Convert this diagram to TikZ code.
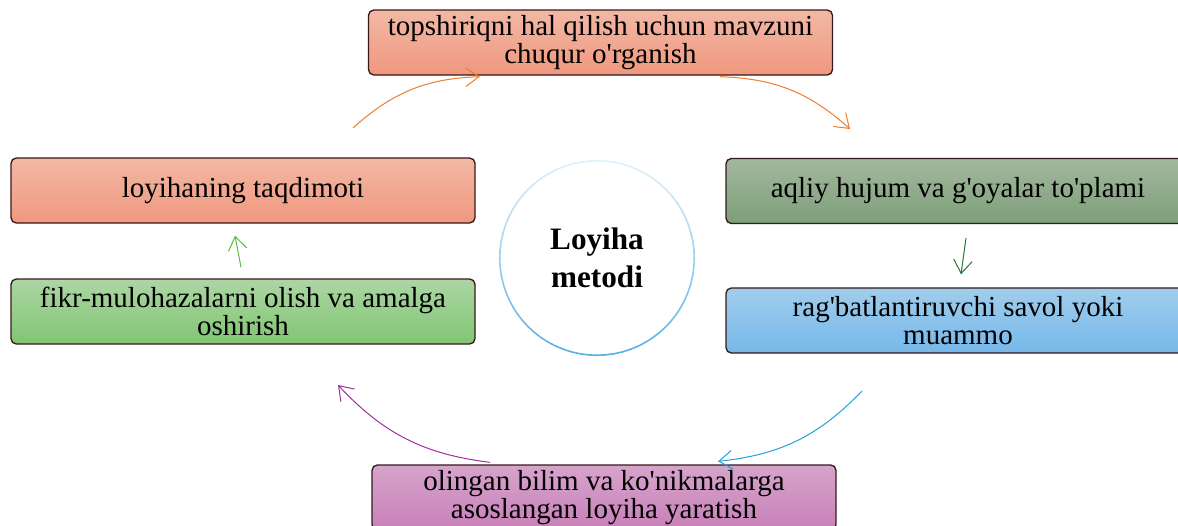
\documentclass[tikz,border=0pt]{standalone}
\usepackage{fontspec}
\setmainfont{Liberation Serif}[Ligatures=TeXOff]
\usetikzlibrary{calc,arrows.meta}
\definecolor{salmtop}{RGB}{242,184,165}
\definecolor{salmbot}{RGB}{240,152,126}
\definecolor{greytop}{RGB}{163,184,158}
\definecolor{greybot}{RGB}{126,158,122}
\definecolor{bluetop}{RGB}{160,205,236}
\definecolor{bluebot}{RGB}{118,184,234}
\definecolor{greentop}{RGB}{172,214,164}
\definecolor{greenbot}{RGB}{128,198,114}
\definecolor{pinktop}{RGB}{214,164,204}
\definecolor{pinkbot}{RGB}{200,128,184}
\definecolor{edge}{RGB}{55,25,25}
\definecolor{ring}{RGB}{88,176,228}
\definecolor{orng}{RGB}{237,125,49}
\definecolor{dgreen}{RGB}{36,120,48}
\definecolor{lgreen}{RGB}{96,186,66}
\definecolor{cyn}{RGB}{34,160,218}
\definecolor{purp}{RGB}{160,48,160}

\begin{document}
\begin{tikzpicture}[x=0.75pt,y=-0.75pt,
	box/.style={rounded corners=4pt,draw=edge,line width=1pt,inner sep=0pt,
		minimum width=348pt,minimum height=48.75pt,align=center,
		font=\fontsize{21.75}{21}\selectfont},
	arr/.style={line width=0.75pt,-{Straight Barb[length=10pt,width=14pt]}}]
\useasboundingbox (0,0) rectangle (1178,525);
\clip (0,0) rectangle (1178,525);

\node[box,top color=salmtop,bottom color=salmbot] (t) at (600.5,42.5)
	{topshiriqni hal qilish uchun mavzuni\\chuqur o'rganish};
\node[box,top color=greytop,bottom color=greybot] (rt) at (958,191)
	{aqliy hujum va g'oyalar to'plami};
\node[box,top color=bluetop,bottom color=bluebot] (rb) at (958,320.5)
	{rag'batlantiruvchi savol yoki\\muammo};
\node[box,top color=pinktop,bottom color=pinkbot] (b) at (604,497.5)
	{olingan bilim va ko'nikmalarga\\asoslangan loyiha yaratish};
\node[box,top color=greentop,bottom color=greenbot] (lb) at (243,311.5)
	{fikr-mulohazalarni olish va amalga\\oshirish};
\node[box,top color=salmtop,bottom color=salmbot] (lt) at (243,190.5)
	{loyihaning taqdimoti};

\node[circle,minimum size=145.5pt,inner sep=0pt,align=center,
	font=\fontsize{23.4}{28.5}\selectfont\bfseries] (m) at (597,258) {Loyiha\\metodi};
\foreach \a in {0,5,...,355}
{
	\pgfmathsetmacro\p{18+82*(1-sin(\a+2.5))/2}
	\pgfmathtruncatemacro\b{\a+5}
	\draw[ring!\p!white,line width=1.2pt,line cap=round] (m.\a) -- (m.\b);
}

\coordinate (o1) at (353,128);
\coordinate (o2) at (850,129);
\coordinate (c1) at (862,391);
\coordinate (p2) at (338,385);

\draw[arr,orng] (o1) to[bend left=20] ($(t.south west)+(112,1)$);
\draw[arr,orng] ($(t.south east)+(-113,1)$) to[bend left=20] (o2);
\draw[arr,dgreen] ($(rt.south)+(8,14)$) -- ($(rb.north)+(3,-13)$);
\draw[arr,cyn] (c1) to[bend left=20] ($(b.north)+(114,-3)$);
\draw[arr,purp] ($(b.north)+(-114,-2)$) to[bend left=20] (p2);
\draw[arr,lgreen] ($(lb.north)+(-2,-11)$) -- ($(lt.south)+(-8,12)$);

\end{tikzpicture}
\end{document}
